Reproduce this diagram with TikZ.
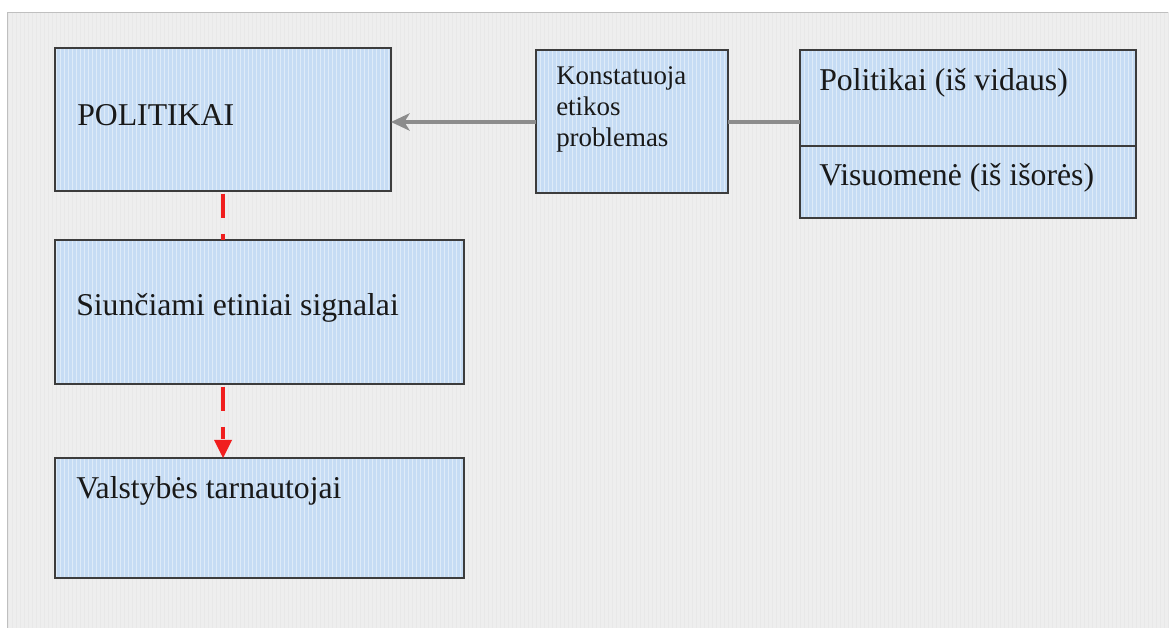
\documentclass[tikz,border=0pt]{standalone}
\usepackage{fontspec}
\setmainfont{Liberation Serif}
\usetikzlibrary{arrows.meta}
\definecolor{bgc}{HTML}{EEEEEE}
\definecolor{boxc}{HTML}{C6DCF4}
\definecolor{edgec}{HTML}{3C3C3C}
\definecolor{arrgray}{HTML}{8C8C8C}
\definecolor{redc}{HTML}{F01E1E}
\tikzset{
  blk/.style={draw=edgec, line width=1.1pt, fill=boxc, inner sep=0pt, outer sep=0pt},
  lbl/.style={anchor=base west, inner sep=0pt, font=\fontsize{23.8}{28}\selectfont, text=black!90},
  small/.style={anchor=base west, inner sep=0pt, align=left, font=\fontsize{20.2}{23.3}\selectfont, text=black!90},
  grayline/.style={draw=arrgray, line width=3pt},
  redline/.style={draw=redc, line width=3.6pt, dash pattern=on 18pt off 12pt}
}
\begin{document}
\begin{tikzpicture}[x=0.75pt,y=-0.75pt]
\useasboundingbox (0,0) rectangle (1172,630);
% background
\fill[white] (0,0) rectangle (1172,630);
\fill[bgc] (7,12) rectangle (1168,628);
\draw[step=4, black!9, line width=0.25pt] (7,12) grid (1168,628);
\draw[black!25, line width=0.6pt] (7,628) -- (7,12) -- (1168,12);
% boxes
\node[blk, minimum width=336*0.75pt, minimum height=143*0.75pt, anchor=north west] (pol) at (55,48) {};
\node[blk, minimum width=192*0.75pt, minimum height=143*0.75pt, anchor=north west] (kon) at (536,50) {};
\node[blk, minimum width=336*0.75pt, minimum height=96*0.75pt, anchor=north west] (pv) at (800,50) {};
\node[blk, minimum width=336*0.75pt, minimum height=72*0.75pt, anchor=north west] (vis) at (800,146) {};
\node[blk, minimum width=409*0.75pt, minimum height=144*0.75pt, anchor=north west] (siu) at (55,240) {};
\node[blk, minimum width=409*0.75pt, minimum height=120*0.75pt, anchor=north west] (val) at (55,458) {};
% grid texture on boxes
\foreach \n in {pol,kon,pv,vis,siu,val}{
  \begin{scope}
    \clip (\n.north west) rectangle (\n.south east);
    \draw[step=4, white!70!boxc, line width=0.25pt, opacity=0.6] (\n.north west) grid (\n.south east);
  \end{scope}
  \draw[draw=edgec, line width=1.1pt] (\n.north west) rectangle (\n.south east);
}
% labels
\node[lbl] (tpol) at (77,126) {POLITIKAI};
\node[small] (tkon) at (556,147) {Konstatuoja\\etikos\\problemas};
\node[lbl] (tpv) at (819,91) {Politikai (iš vidaus)};
\node[lbl] (tvis) at (819,186) {Visuomenė (iš išorės)};
\node[lbl] (tsiu) at (76,316) {Siunčiami etiniai signalai};
\node[lbl] (tval) at (76,499) {Valstybės tarnautojai};
% connectors
\coordinate (kl) at ([yshift=-72*0.75pt]kon.north west);
\coordinate (kr) at ([yshift=-72*0.75pt]kon.north east);
\draw[grayline, -{Stealth[length=14pt,width=13pt,inset=4pt]}] (kl) -- (pol.east |- kl);
\draw[grayline] (kr) -- (pv.west |- kr);
\draw[redline] ([xshift=168*0.75pt]pol.south west) ++(0,3) -- ([xshift=168*0.75pt]siu.north west);
\draw[redline] ([xshift=168*0.75pt]siu.south west) ++(0,3) -- ++(0,52);
\fill[redc] ([xshift=168*0.75pt]val.north west) -- ++(-9,-18) -- ++(18,0) -- cycle;
\end{tikzpicture}
\end{document}
